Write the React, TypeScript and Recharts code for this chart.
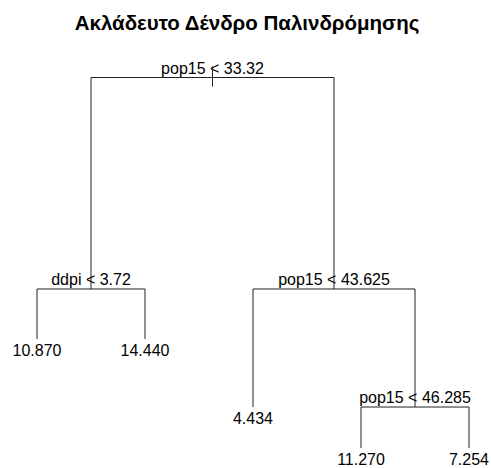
import React from 'react';
import { ScatterChart, Scatter, XAxis, YAxis, ReferenceLine } from 'recharts';

const title = 'Ακλάδευτο Δένδρο Παλινδρόμησης';

// Split nodes (pre-order): variable, cut point, node deviance
const splitVars = ['pop15', 'ddpi', 'pop15', 'pop15'];
const splitCuts = ['33.32', '3.72', '43.625', '46.285'];
const splitDeviance = [983.9, 456.5, 456.5, 162.2];

// Terminal nodes (left to right): fitted mean and node deviance
const leafMeans = [10.87, 14.44, 4.434, 11.27, 7.254];
const leafDeviance = [331.8, 331.8, 162.2, 60.0, 60.0];

// Children of each split: 's<i>' = split node, 'l<i>' = leaf
const splitChildren: [string, string][] = [
  ['s1', 's2'],
  ['l0', 'l1'],
  ['l2', 's3'],
  ['l3', 'l4'],
];

const FONT = '"Liberation Sans", Arial, sans-serif';
const INK = '#000';
const EDGE = '#222';

type Pt = { x: number; dev: number };

// Leaves sit at 1..n; a split sits midway between its two children.
function nodePos(ref: string): Pt {
  const i = Number(ref.slice(1));
  if (ref[0] === 'l') return { x: i + 1, dev: leafDeviance[i] };
  const [a, b] = splitChildren[i];
  return { x: (nodePos(a).x + nodePos(b).x) / 2, dev: splitDeviance[i] };
}

const labelPoints = [
  ...splitVars.map((v, i) => ({
    ...nodePos('s' + i),
    text: `${v} < ${splitCuts[i]}`,
    kind: 'split',
    root: i === 0,
  })),
  ...leafMeans.map((m, i) => ({
    ...nodePos('l' + i),
    text: m.toFixed(3),
    kind: 'leaf',
    root: false,
  })),
];

const segments: [Pt, Pt][] = [];
splitChildren.forEach(([a, b], i) => {
  const p = nodePos('s' + i);
  const ca = nodePos(a);
  const cb = nodePos(b);
  segments.push([{ x: ca.x, dev: p.dev }, { x: cb.x, dev: p.dev }]);
  segments.push([{ x: ca.x, dev: p.dev }, { x: ca.x, dev: ca.dev }]);
  segments.push([{ x: cb.x, dev: p.dev }, { x: cb.x, dev: cb.dev }]);
});

const NodeLabel = (props: any) => {
  const { cx, cy, payload } = props;
  if (payload.kind === 'split') {
    return (
      <g>
        <text x={cx} y={cy - 4} textAnchor="middle" fontFamily={FONT} fontSize={16} fill={INK}>
          {payload.text}
        </text>
        {payload.root && <line x1={cx} x2={cx} y1={cy - 11} y2={cy + 9} stroke={EDGE} strokeWidth={1} />}
      </g>
    );
  }
  return (
    <text x={cx} y={cy + 17} textAnchor="middle" fontFamily={FONT} fontSize={16} fill={INK}>
      {payload.text}
    </text>
  );
};

export default function App() {
  return (
    <div style={{ position: 'absolute', left: 0, top: 0, width: 491, height: 468, background: '#fff' }}>
      <svg width={491} height={40} style={{ position: 'absolute', left: 0, top: 0 }}>
        <text x={247} y={30} textAnchor="middle" fontFamily={FONT} fontSize={20.5} fontWeight="bold" fill={INK}>
          {title}
        </text>
      </svg>
      <div style={{ position: 'absolute', left: 0, top: 0 }}>
        <ScatterChart width={491} height={468} margin={{ top: 77.5, right: 22, bottom: 20, left: 37 }}>
          <XAxis type="number" dataKey="x" domain={[1, 5]} hide />
          <YAxis type="number" dataKey="dev" domain={[60, 983.9]} hide />
          {segments.map((s, i) => (
            <ReferenceLine
              key={i}
              segment={[{ x: s[0].x, y: s[0].dev }, { x: s[1].x, y: s[1].dev }]}
              stroke={EDGE}
              strokeWidth={1}
              ifOverflow="visible"
            />
          ))}
          <Scatter data={labelPoints} shape={NodeLabel} isAnimationActive={false} />
        </ScatterChart>
      </div>
    </div>
  );
}
